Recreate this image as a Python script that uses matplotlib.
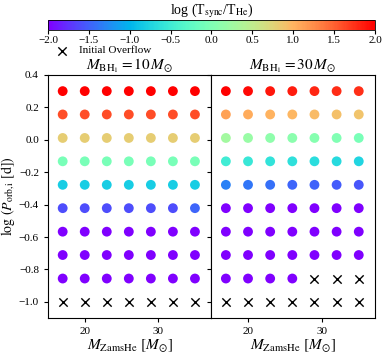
import numpy as np
import matplotlib
matplotlib.use("Agg")
import matplotlib.pyplot as plt

plt.rcParams["font.family"] = ["Liberation Serif", "DejaVu Serif"]
plt.rcParams["mathtext.fontset"] = "stix"

# grid of initial conditions
m_he = [17, 20, 23, 26, 29, 32, 35]
log_p = [0.3, 0.156, 0.011, -0.133, -0.278, -0.422, -0.567, -0.711, -0.856, -1.0]

# log(T_sync/T_He), one row per log_p; None = initial overflow
tsync_10 = [
    [2.0, 2.0, 2.0, 2.0, 2.0, 2.0, 2.0],
    [1.6, 1.6, 1.6, 1.6, 1.6, 1.6, 1.6],
    [0.8, 0.8, 0.8, 0.8, 0.8, 0.8, 0.8],
    [-0.05, -0.05, -0.05, -0.05, -0.05, -0.05, -0.05],
    [-0.8, -0.8, -0.8, -0.8, -0.8, -0.8, -0.8],
    [-1.6, -1.6, -1.6, -1.6, -1.6, -1.6, -1.48],
    [-2.0, -2.0, -2.0, -2.0, -2.0, -2.0, -2.0],
    [-2.0, -2.0, -2.0, -2.0, -2.0, -2.0, -2.0],
    [-2.0, -2.0, -2.0, -2.0, -2.0, -2.0, -2.0],
    [None, None, None, None, None, None, None],
]
tsync_30 = [
    [2.0, 1.95, 1.88, 1.85, 1.8, 1.78, 1.75],
    [1.12, 1.05, 1.0, 0.98, 0.95, 0.92, 0.88],
    [0.28, 0.2, 0.12, 0.08, 0.05, 0.0, -0.05],
    [-0.5, -0.55, -0.6, -0.63, -0.66, -0.7, -0.75],
    [-1.32, -1.38, -1.42, -1.47, -1.5, -1.53, -1.56],
    [-2.0, -2.0, -2.0, -2.0, -2.0, -2.0, -2.0],
    [-2.0, -2.0, -2.0, -2.0, -2.0, -2.0, -2.0],
    [-2.0, -2.0, -2.0, -2.0, -2.0, -2.0, -2.0],
    [-2.0, -2.0, -2.0, -2.0, None, None, None],
    [None, None, None, None, None, None, None],
]
bh_masses = [10, 30]

fig = plt.figure(figsize=(3.87, 3.55), dpi=100)
ax1 = fig.add_axes([0.124, 0.104, 0.4215, 0.685])
ax2 = fig.add_axes([0.5455, 0.104, 0.4235, 0.685], sharey=ax1)
cax = fig.add_axes([0.124, 0.915, 0.845, 0.028])

for ax, grid, mbh in zip([ax1, ax2], [tsync_10, tsync_30], bh_masses):
    xs, ys, cs, xo, yo = [], [], [], [], []
    for p, row in zip(log_p, grid):
        for m, v in zip(m_he, row):
            if v is None:
                xo.append(m)
                yo.append(p)
            else:
                xs.append(m)
                ys.append(p)
                cs.append(v)
    sc = ax.scatter(xs, ys, c=cs, cmap="rainbow", vmin=-2, vmax=2,
                    s=50, edgecolors="none")
    ax.scatter(xo, yo, marker="x", color="k", s=36, linewidths=1.0,
               label="Initial Overflow")
    ax.set_xlim(15, 37.2)
    ax.set_ylim(-1.1, 0.4)
    ax.set_xticks([20, 30])
    ax.set_xlabel(r"$M_{\rm ZamsHe}\ [M_{\odot}]$", fontsize=11, labelpad=1)
    ax.set_title(r"$M_{\rm BH_1} = %d\,M_{\odot}$" % mbh, fontsize=11, pad=1)
    ax.tick_params(labelsize=8, length=3)

ax1.set_ylabel(r"$\log\,(P_{\rm orb,i}\ [\rm d])$", fontsize=10, labelpad=1)
ax1.set_yticks([-1.0, -0.8, -0.6, -0.4, -0.2, 0.0, 0.2, 0.4])
ax2.tick_params(labelleft=False)
ax1.legend(loc="lower left", bbox_to_anchor=(0.02, 1.08), frameon=False,
           fontsize=8, handletextpad=0.5, borderpad=0.0, borderaxespad=0.0)

cb = fig.colorbar(sc, cax=cax, orientation="horizontal")
cb.set_ticks([-2.0, -1.5, -1.0, -0.5, 0.0, 0.5, 1.0, 1.5, 2.0])
cb.ax.tick_params(labelsize=8, length=3, pad=1.5)
cb.outline.set_linewidth(0.6)
cb.ax.set_title(r"log (T$_{\rm sync}$/T$_{\rm He}$)", fontsize=10, pad=2)

fig.savefig("out.png", dpi=100)
